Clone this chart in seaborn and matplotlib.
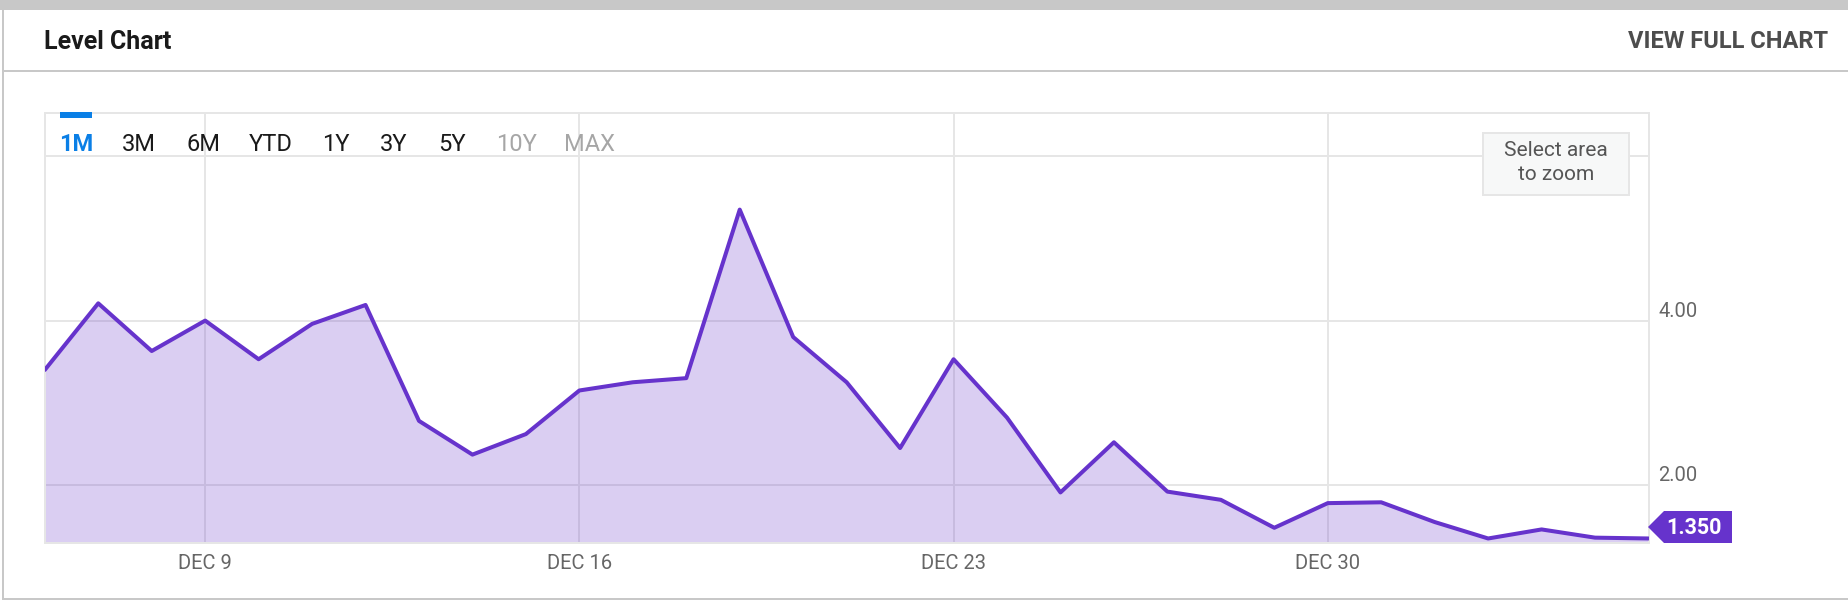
import matplotlib
matplotlib.use("Agg")
import matplotlib.pyplot as plt
from matplotlib import font_manager as fm
from matplotlib.patches import Rectangle, Polygon
import pandas as pd
import seaborn as sns

dates = pd.date_range("2018-12-06", periods=31, freq="D")
levels = [3.40, 4.21, 3.63, 4.00, 3.53, 3.96, 4.19, 2.78, 2.37, 2.62, 3.15,
          3.25, 3.30, 5.35, 3.80, 3.25, 2.45, 3.53, 2.82, 1.91, 2.52, 1.92,
          1.82, 1.48, 1.78, 1.79, 1.55, 1.35, 1.46, 1.36, 1.35]
date_ticks = ["2018-12-09", "2018-12-16", "2018-12-23", "2018-12-30"]
date_labels = ["DEC 9", "DEC 16", "DEC 23", "DEC 30"]
y_ticks = [2, 4, 6]
y_labels = ["2.00", "4.00", ""]
ranges = ["1M", "3M", "6M", "YTD", "1Y", "3Y", "5Y", "10Y", "MAX"]
range_x = [76, 139, 203, 270.5, 336, 394, 452, 516, 590]

sns.set_theme(style="white")
names = {f.name for f in fm.fontManager.ttflist}
cond = "Liberation Sans Narrow" if "Liberation Sans Narrow" in names else "Roboto"
plt.rcParams["font.family"] = [cond, "DejaVu Sans"]

W, H = 1848, 602
PURPLE = "#6633cc"
GRID = "#e6e6e6"
fig = plt.figure(figsize=(W / 100, H / 100), dpi=100, facecolor="white")

chrome = fig.add_axes([0, 0, 1, 1], zorder=0)
chrome.set_xlim(0, W)
chrome.set_ylim(H, 0)
chrome.axis("off")
BORDER = "#c8c8c8"
chrome.add_patch(Rectangle((0, 0), W, 9.5, fc=BORDER, ec="none"))
chrome.add_patch(Rectangle((2, 0), 2, 600, fc=BORDER, ec="none"))
chrome.add_patch(Rectangle((2, 70), W, 2, fc=BORDER, ec="none"))
chrome.add_patch(Rectangle((2, 597.5), W, 2, fc=BORDER, ec="none"))
chrome.text(44.5, 42, "Level Chart", fontsize=18, fontweight="bold", color="#1a1a1a", va="center", ha="left")
chrome.text(1828, 42, "VIEW FULL CHART", fontsize=17, fontweight="bold", color="#4d4d4d", va="center", ha="right")

L, R, T, B = 44.8, 1648.5, 113, 543
ax = fig.add_axes([L / W, 1 - B / H, (R - L) / W, (B - T) / H], zorder=1)
ax.patch.set_alpha(0)
df = pd.DataFrame({"date": dates, "level": levels})
sns.lineplot(data=df, x="date", y="level", ax=ax, color=PURPLE, linewidth=2.9, zorder=3)
ax.fill_between(df["date"], df["level"], 0, color=PURPLE, alpha=0.24, lw=0, zorder=2)
ax.set_xlim(dates[0], dates[-1])
ax.set_ylim(1.295, 6.525)
ax.set_xlabel("")
ax.set_ylabel("")
ax.set_xticks(pd.to_datetime(date_ticks))
ax.set_xticklabels(date_labels, fontsize=14.5, color="#666666")
ax.yaxis.tick_right()
ax.set_yticks(y_ticks)
ax.set_yticklabels(y_labels, fontsize=14.5, color="#666666", va="bottom")
ax.tick_params(axis="x", length=0, pad=8)
ax.tick_params(axis="y", length=0, pad=7)
ax.grid(True, color=GRID, linewidth=1.44, zorder=1)
ax.set_axisbelow(True)
for s in ax.spines.values():
    s.set_color(GRID)
    s.set_linewidth(1.44)

over = fig.add_axes([0, 0, 1, 1], zorder=2)
over.set_xlim(0, W)
over.set_ylim(H, 0)
over.axis("off")
over.patch.set_alpha(0)
over.add_patch(Rectangle((60, 112), 32, 6, fc="#0a7fe6", ec="none"))
for name, x in zip(ranges, range_x):
    color = "#0a7fe6" if name == "1M" else ("#a6a6a6" if name in ("10Y", "MAX") else "#1a1a1a")
    over.text(x, 144.5, name, fontsize=17, ha="center", va="center", color=color,
              fontweight="bold" if name == "1M" else "normal")
over.add_patch(Rectangle((1483, 133), 146, 62, fc="#f7f8f8", ec=GRID, lw=1.44))
over.text(1556, 151, "Select area", fontsize=15, ha="center", va="center", color="#555555")
over.text(1556, 175, "to zoom", fontsize=15, ha="center", va="center", color="#555555")
over.add_patch(Polygon([(1648, 527), (1664, 511), (1732, 511), (1732, 543), (1664, 543)],
                       closed=True, fc=PURPLE, ec="none"))
over.text(1694, 528, f"{levels[-1]:.3f}", fontsize=15.5, fontweight="bold", color="white", ha="center", va="center")

fig.savefig("out.png", dpi=100)
